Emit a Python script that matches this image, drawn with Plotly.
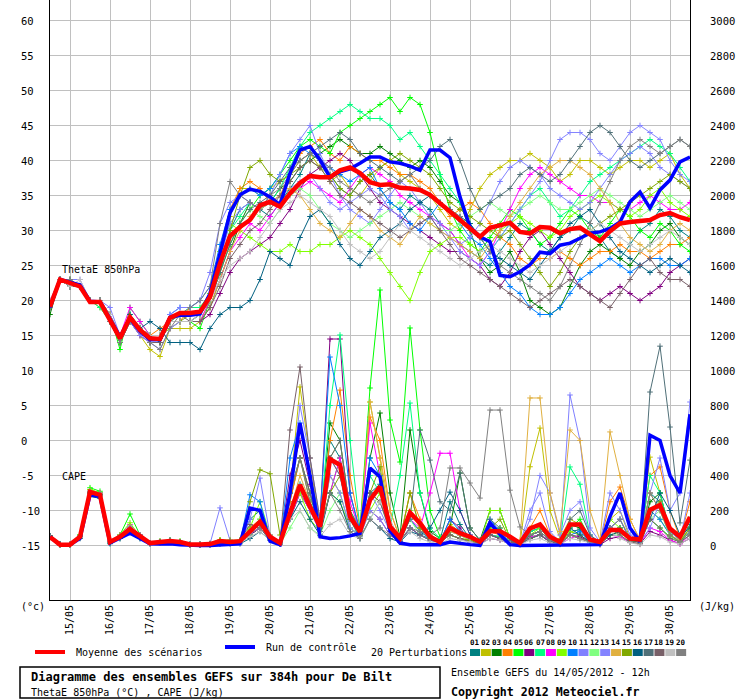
import plotly.graph_objects as go

# Echeances : 65 pas de 6h depuis le 14/05/2012 12h
hours = [6 * i for i in range(65)]
day_ticks = [12 + 24 * k for k in range(16)]
day_labels = ['15/05', '16/05', '17/05', '18/05', '19/05', '20/05', '21/05', '22/05',
              '23/05', '24/05', '25/05', '26/05', '27/05', '28/05', '29/05', '30/05']

theta_ticks = [-15, -10, -5, 0, 5, 10, 15, 20, 25, 30, 35, 40, 45, 50, 55, 60]
cape_ticks = [0, 200, 400, 600, 800, 1000, 1200, 1400, 1600, 1800, 2000, 2200, 2400, 2600, 2800, 3000]

member_colors = ['#008080', '#c0c000', '#008000', '#ff8000', '#00ff00', '#800080', '#00ff80',
                 '#ff00ff', '#80ff00', '#0080ff', '#8080ff', '#80ff80', '#8484ff', '#e0b040',
                 '#80a800', '#006080', '#507078', '#786068', '#c0c0c0', '#808080']

# Moyenne et run de controle
theta_mean = [19.1, 23.0, 22.5, 22.0, 19.8, 19.8, 17.2, 14.6, 17.6, 15.8, 14.6, 14.5, 17.5, 18.2, 18.2, 18.4, 20.5,
              25.3, 29.2, 30.5, 31.5, 33.6, 34.1, 33.4, 35.3,
              36.8, 37.8, 37.6, 37.6, 38.6, 39.0, 38.2, 36.9, 36.5, 36.6, 36.1, 36.0, 35.8, 35.1, 33.9, 32.9,
              31.6, 30.4, 29.1, 30.4, 30.8, 31.1, 29.8, 29.6, 30.5, 30.4, 29.6, 30.2, 30.4, 29.4, 28.5, 29.9,
              31.0, 31.2, 31.3, 31.5, 32.2, 32.5, 31.9, 31.5]
theta_ctrl = [19.0, 23.0, 22.6, 22.2, 19.9, 19.8, 17.4, 14.8, 17.4, 15.6, 14.4, 14.4, 17.6, 17.9, 17.9, 18.1, 21.0,
              27.0, 32.5, 35.1, 35.9, 35.6, 34.8, 33.7, 38.2,
              41.5, 42.0, 40.1, 37.6, 38.4, 38.8, 39.6, 40.5, 40.5, 39.8, 39.6, 39.2, 38.6, 41.5, 41.5, 40.4,
              34.8, 30.5, 29.1, 28.4, 23.6, 23.4, 24.1, 25.1, 26.9, 26.7, 27.9, 28.2, 28.9, 29.6, 29.8, 30.3,
              31.2, 34.1, 35.5, 33.2, 35.8, 37.2, 39.8, 40.5]
cape_mean = [49, 5, 5, 50, 306, 289, 20, 50, 94, 50, 14, 20, 26, 20, 6, 6, 8,
             25, 20, 25, 78, 136, 50, 15, 185, 346, 222,
             108, 494, 460, 165, 79, 260, 336, 108, 43, 188,
             128, 50, 20, 100, 71, 50, 22, 82, 82, 50,
             14, 97, 120, 50, 20, 120, 120, 34, 20, 88,
             88, 40, 34, 203, 231, 97, 50, 163]
cape_ctrl = [49, 5, 5, 40, 290, 280, 15, 40, 70, 40, 10, 8, 10, 5, 0, 0, 0,
             5, 10, 10, 214, 200, 25, 5, 300, 700, 400,
             50, 40, 45, 55, 70, 443, 392, 85, 14, 5,
             5, 5, 5, 20, 10, 5, 0, 130, 63, 5,
             0, 0, 0, 0, 0, 0, 0, 0, 5, 165,
             300, 100, 22, 630, 600, 400, 300, 750]

# ThetaE 850hPa des 20 perturbations
theta_p01 = [19, 23, 22, 22, 20, 20, 17, 14, 18, 16, 15, 14, 17, 18, 18, 18, 20,
             24, 30, 33, 34, 33, 32, 34, 36,
             38, 41, 40, 38, 36, 35, 37, 38, 36, 34, 33, 35, 34, 33, 31, 30,
             28, 27, 26, 25, 27, 29, 31, 30, 28, 27, 29, 30, 32, 31, 29, 27, 26, 28, 30, 31, 33, 32, 30, 29]
theta_p02 = [19, 23, 22, 22, 20, 19, 17, 14, 17, 15, 13, 12, 16, 16, 16, 17, 20,
             26, 32, 36, 36, 35, 36, 37, 38,
             40, 41, 39, 37, 38, 36, 35, 37, 39, 40, 38, 37, 36, 35, 33, 31,
             30, 33, 36, 38, 39, 40, 40, 41, 40, 39, 37, 38, 40, 40, 39, 38, 39, 40, 40, 39, 40, 41, 38, 36]
theta_p03 = [18, 23, 22, 22, 20, 20, 17, 14, 18, 16, 14, 14, 17, 17, 17, 17, 19,
             23, 27, 31, 34, 33, 34, 36, 37,
             39, 40, 41, 42, 43, 42, 41, 41, 42, 41, 40, 39, 40, 39, 37, 35,
             34, 30, 26, 24, 25, 27, 24, 20, 19, 18, 19, 22, 25, 27, 28, 27, 26, 25, 27, 28, 30, 31, 29, 28]
theta_p04 = [19, 23, 23, 22, 20, 20, 18, 15, 17, 16, 15, 16, 17, 17, 19, 19, 21,
             27, 33, 36, 37, 36, 34, 35, 38,
             41, 42, 43, 41, 40, 42, 41, 40, 40, 39, 38, 38, 37, 36, 34, 32,
             33, 34, 33, 31, 29, 28, 26, 25, 26, 26, 27, 26, 25, 26, 27, 27, 28, 27, 27, 26, 27, 28, 28, 29]
theta_p05 = [19, 23, 23, 22, 20, 20, 18, 13, 19, 17, 15, 15, 17, 17, 17, 16, 20,
             24, 28, 31, 33, 35, 36, 38, 40,
             42, 43, 42, 41, 44, 45, 46, 47, 48, 49, 47, 49, 48, 44, 38, 33,
             30, 28, 27, 29, 31, 33, 32, 30, 28, 29, 31, 33, 32, 30, 29, 31, 33, 32, 30, 29, 31, 30, 28, 27]
theta_p06 = [19, 23, 22, 22, 20, 20, 17, 14, 17, 15, 14, 14, 17, 17, 17, 17, 18,
             21, 24, 26, 27, 28, 29, 31, 33,
             36, 38, 39, 40, 41, 40, 38, 36, 34, 33, 32, 31, 30, 29, 28, 27,
             27, 26, 25, 23, 22, 24, 27, 29, 30, 28, 26, 24, 22, 21, 20, 21, 22, 21, 20, 21, 22, 24, 25, 26]
theta_p07 = [19, 23, 23, 22, 20, 19, 17, 14, 18, 16, 15, 15, 17, 18, 19, 19, 21,
             25, 30, 32, 34, 33, 34, 36, 39,
             42, 44, 45, 46, 47, 48, 47, 46, 46, 45, 43, 44, 42, 40, 38, 36,
             34, 31, 29, 27, 29, 31, 33, 35, 36, 34, 32, 33, 35, 37, 38, 39, 40, 41, 42, 43, 42, 41, 39, 37]
theta_p08 = [20, 23, 22, 22, 20, 20, 18, 15, 19, 17, 15, 15, 16, 17, 17, 17, 20,
             23, 27, 29, 31, 30, 32, 34, 35,
             36, 37, 36, 35, 34, 36, 38, 39, 38, 37, 35, 34, 33, 32, 31, 30,
             28, 26, 25, 27, 30, 33, 36, 38, 39, 38, 37, 36, 35, 35, 34, 34, 33, 33, 34, 35, 34, 33, 33, 34]
theta_p09 = [19, 23, 23, 22, 20, 20, 18, 15, 17, 16, 15, 15, 16, 17, 17, 18, 21,
             27, 31, 30, 29, 28, 27, 27, 28,
             27, 27, 28, 28, 29, 30, 29, 28, 26, 24, 22, 20, 24, 27, 28, 29,
             29, 28, 27, 28, 30, 31, 32, 31, 30, 29, 30, 32, 33, 34, 35, 34, 33, 32, 33, 35, 36, 34, 33, 32]
theta_p10 = [19, 23, 22, 22, 20, 20, 17, 15, 17, 16, 14, 14, 18, 19, 19, 20, 22,
             28, 33, 35, 36, 35, 36, 38, 41,
             42, 41, 40, 39, 38, 37, 38, 39, 36, 34, 33, 31, 30, 32, 34, 33,
             31, 29, 28, 26, 24, 22, 21, 19, 18, 18, 19, 21, 23, 24, 25, 26, 25, 24, 25, 26, 26, 25, 25, 26]
theta_p11 = [20, 23, 23, 23, 20, 20, 19, 15, 17, 16, 15, 15, 18, 19, 19, 20, 24,
             31, 34, 35, 34, 33, 35, 38, 41,
             43, 45, 41, 38, 35, 33, 32, 31, 33, 35, 37, 36, 34, 32, 30, 29,
             28, 29, 31, 34, 37, 39, 40, 39, 38, 36, 35, 34, 33, 34, 36, 38, 40, 41, 42, 41, 39, 38, 37, 36]
theta_p12 = [19, 23, 22, 22, 20, 20, 17, 14, 18, 16, 15, 15, 17, 18, 18, 18, 20,
             25, 29, 31, 33, 32, 31, 33, 35,
             36, 35, 33, 31, 30, 29, 30, 31, 32, 33, 34, 33, 32, 31, 30, 30,
             31, 32, 33, 34, 33, 32, 33, 34, 35, 34, 33, 33, 34, 35, 36, 35, 34, 33, 32, 33, 34, 35, 34, 33]
theta_p13 = [19, 23, 22, 22, 20, 20, 17, 14, 17, 15, 14, 13, 16, 17, 17, 18, 20,
             26, 31, 33, 34, 33, 34, 35, 36,
             37, 38, 36, 34, 33, 34, 35, 36, 35, 33, 32, 30, 31, 32, 31, 29,
             27, 26, 25, 27, 29, 31, 33, 35, 37, 40, 43, 44, 44, 43, 41, 40, 42, 44, 45, 44, 43, 40, 38, 37]
theta_p14 = [19, 23, 22, 22, 20, 20, 18, 15, 17, 16, 15, 15, 17, 17, 17, 17, 19,
             23, 27, 30, 32, 33, 34, 35, 36,
             35, 33, 31, 30, 29, 31, 33, 32, 30, 29, 28, 30, 32, 31, 30, 29,
             28, 27, 26, 28, 30, 32, 34, 36, 38, 39, 40, 40, 39, 38, 36, 34, 31, 29, 28, 27, 28, 30, 31, 30]
theta_p15 = [19, 23, 22, 22, 20, 20, 17, 14, 17, 16, 14, 14, 17, 17, 18, 18, 20,
             25, 30, 35, 39, 40, 38, 37, 38,
             39, 40, 39, 38, 36, 35, 37, 38, 39, 40, 41, 40, 39, 38, 36, 34,
             33, 32, 31, 30, 29, 30, 28, 26, 24, 22, 24, 27, 29, 30, 31, 32, 33, 34, 35, 36, 37, 38, 37, 36]
theta_p16 = [19, 23, 22, 22, 20, 20, 17, 15, 18, 16, 17, 16, 14, 14, 14, 13, 16,
             18, 19, 19, 20, 23, 27, 26, 25,
             29, 32, 33, 31, 28, 26, 25, 27, 29, 30, 31, 33, 34, 35, 34, 33,
             32, 31, 29, 27, 26, 25, 24, 23, 25, 27, 29, 31, 32, 33, 31, 29, 27, 26, 25, 24, 25, 26, 25, 24]
theta_p17 = [19, 23, 22, 22, 20, 20, 17, 14, 17, 16, 15, 15, 17, 17, 17, 18, 20,
             24, 28, 31, 33, 34, 35, 37, 39,
             40, 41, 42, 43, 44, 43, 41, 40, 39, 38, 37, 38, 39, 40, 42, 43,
             40, 36, 33, 34, 35, 36, 38, 39, 38, 37, 38, 40, 42, 44, 45, 44, 42, 40, 39, 40, 41, 42, 43, 42]
theta_p18 = [19, 23, 23, 22, 20, 20, 18, 14, 17, 16, 14, 14, 17, 18, 17, 17, 19,
             22, 26, 28, 30, 31, 33, 35, 37,
             39, 40, 39, 37, 35, 34, 33, 32, 31, 30, 29, 30, 31, 32, 30, 28,
             26, 25, 24, 23, 22, 21, 20, 19, 20, 21, 22, 23, 22, 21, 20, 19, 21, 23, 25, 26, 24, 23, 23, 22]
theta_p19 = [20, 23, 22, 23, 20, 20, 18, 15, 17, 16, 15, 15, 17, 17, 17, 18, 20,
             23, 25, 26, 27, 29, 31, 33, 34,
             35, 34, 33, 32, 30, 28, 27, 26, 27, 29, 31, 30, 29, 28, 27, 26,
             25, 26, 27, 28, 27, 26, 25, 24, 25, 26, 27, 28, 29, 30, 31, 30, 29, 28, 27, 28, 29, 30, 29, 28]
theta_p20 = [19, 23, 23, 22, 20, 20, 17, 14, 17, 16, 14, 13, 16, 18, 19, 20, 22,
             31, 37, 35, 34, 33, 35, 36, 38,
             40, 41, 40, 39, 37, 36, 35, 34, 35, 36, 37, 38, 36, 35, 34, 33,
             32, 30, 29, 27, 25, 24, 23, 22, 21, 20, 22, 25, 28, 31, 34, 37, 40, 42, 43, 42, 41, 42, 43, 42]

# CAPE (J/kg) des 20 perturbations
cape_p01 = [50, 5, 5, 60, 300, 290, 10, 40, 80, 40, 10, 20, 30, 20, 5, 5, 10,
            20, 15, 20, 150, 200, 40, 10, 250, 500, 300, 60, 600, 500, 150, 40, 300, 350, 80, 20, 100,
            60, 40, 30, 250, 120, 40, 10, 60, 50, 20, 10, 80, 100, 30, 10, 80, 90, 20, 10, 100,
            150, 30, 20, 300, 250, 80, 30, 120]
cape_p02 = [45, 5, 5, 50, 320, 300, 20, 60, 100, 50, 15, 20, 25, 20, 5, 5, 5,
            10, 20, 30, 80, 120, 40, 10, 300, 906, 500, 80, 400, 300, 100, 50, 820, 500, 120, 30, 150,
            80, 40, 20, 120, 80, 30, 10, 60, 40, 20, 10, 450, 671, 200, 40, 150, 120, 30, 10, 150,
            200, 40, 20, 505, 300, 60, 20, 80]
cape_p03 = [55, 5, 5, 45, 290, 280, 20, 50, 90, 60, 15, 25, 30, 20, 5, 5, 5,
            20, 25, 20, 60, 100, 30, 10, 150, 300, 200, 100, 700, 600, 200, 80, 500, 757, 300, 50, 660,
            300, 80, 40, 100, 414, 100, 30, 200, 200, 40, 10, 60, 80, 30, 10, 120, 100, 30, 10, 80,
            100, 30, 20, 250, 300, 80, 40, 150]
cape_p04 = [50, 5, 5, 50, 310, 300, 25, 50, 100, 50, 15, 20, 25, 20, 5, 5, 10,
            30, 20, 25, 100, 150, 60, 20, 250, 500, 300, 120, 600, 888, 400, 100, 734, 600, 200, 40, 300,
            150, 60, 30, 100, 60, 40, 20, 80, 60, 20, 10, 100, 200, 60, 20, 80, 60, 20, 10, 250,
            334, 150, 30, 400, 449, 200, 40, 250]
cape_p05 = [50, 5, 5, 60, 330, 310, 20, 60, 180, 60, 15, 20, 30, 25, 5, 5, 10,
            30, 20, 30, 90, 150, 50, 20, 150, 350, 250, 80, 300, 500, 200, 100, 900, 1460, 717, 477, 1243,
            660, 200, 50, 60, 40, 30, 10, 80, 100, 30, 10, 50, 60, 30, 10, 100, 150, 40, 10, 60,
            80, 30, 20, 150, 100, 50, 20, 60]
cape_p06 = [48, 5, 5, 50, 300, 290, 20, 50, 90, 50, 15, 20, 25, 20, 5, 5, 5,
            15, 20, 20, 60, 100, 40, 10, 400, 600, 350, 150, 1180, 1180, 300, 80, 200, 150, 60, 20, 100,
            60, 30, 20, 150, 100, 30, 10, 40, 30, 10, 5, 40, 60, 20, 10, 60, 50, 20, 5, 40,
            50, 20, 10, 80, 60, 30, 10, 40]
cape_p07 = [50, 5, 5, 55, 300, 295, 20, 50, 110, 50, 15, 20, 25, 20, 5, 5, 10,
            20, 20, 25, 80, 120, 40, 10, 200, 300, 200, 100, 800, 1203, 600, 100, 400, 300, 100, 400, 814,
            300, 100, 40, 80, 60, 30, 10, 60, 50, 20, 10, 80, 100, 40, 20, 449, 350, 60, 10, 80,
            100, 40, 20, 400, 300, 80, 30, 100]
cape_p08 = [52, 5, 5, 50, 310, 300, 20, 60, 120, 60, 15, 20, 25, 20, 5, 5, 10,
            20, 20, 25, 70, 100, 40, 10, 150, 300, 200, 80, 300, 500, 250, 80, 700, 400, 100, 30, 150,
            100, 300, 527, 527, 200, 60, 20, 60, 40, 20, 10, 50, 60, 30, 10, 40, 60, 20, 10, 60,
            50, 20, 10, 100, 80, 30, 10, 60]
cape_p09 = [50, 5, 5, 60, 320, 300, 25, 60, 130, 50, 15, 25, 30, 25, 5, 5, 10,
            30, 30, 30, 100, 250, 60, 20, 200, 300, 150, 80, 300, 250, 100, 60, 200, 300, 100, 30, 200,
            100, 40, 20, 60, 40, 30, 10, 200, 200, 40, 10, 60, 100, 40, 10, 80, 60, 20, 10, 150,
            100, 30, 20, 200, 150, 60, 20, 100]
cape_p10 = [48, 5, 5, 50, 300, 290, 20, 50, 100, 50, 15, 20, 25, 20, 5, 5, 10,
            20, 20, 20, 290, 250, 40, 10, 500, 700, 400, 150, 1077, 800, 300, 80, 500, 400, 100, 30, 150,
            80, 40, 20, 150, 80, 30, 10, 150, 80, 20, 10, 60, 80, 30, 10, 60, 80, 20, 10, 100,
            80, 30, 20, 200, 150, 60, 20, 80]
cape_p11 = [50, 5, 5, 55, 310, 300, 20, 50, 95, 50, 15, 20, 30, 20, 5, 5, 10,
            215, 30, 20, 150, 385, 60, 20, 300, 800, 500, 150, 500, 400, 100, 60, 300, 200, 80, 30, 100,
            60, 30, 20, 80, 60, 30, 10, 60, 40, 20, 10, 200, 300, 80, 20, 860, 600, 100, 20, 300,
            200, 60, 30, 300, 500, 200, 300, 820]
cape_p12 = [50, 5, 5, 50, 300, 290, 20, 50, 90, 50, 15, 20, 25, 20, 5, 5, 10,
            20, 20, 20, 60, 150, 40, 10, 100, 200, 100, 60, 200, 300, 100, 50, 150, 250, 80, 20, 150,
            60, 30, 20, 60, 40, 20, 10, 100, 60, 20, 10, 40, 60, 20, 10, 60, 40, 20, 10, 60,
            60, 20, 10, 150, 200, 50, 20, 60]
cape_p13 = [50, 5, 5, 50, 300, 290, 20, 50, 100, 50, 15, 20, 25, 20, 5, 5, 10,
            20, 20, 20, 70, 100, 40, 10, 200, 350, 200, 80, 400, 300, 100, 50, 200, 150, 60, 20, 100,
            60, 30, 20, 60, 40, 20, 10, 60, 40, 20, 10, 150, 400, 300, 60, 200, 250, 60, 10, 100,
            150, 40, 20, 100, 250, 80, 30, 300]
cape_p14 = [50, 5, 5, 50, 310, 300, 20, 55, 100, 55, 15, 20, 25, 20, 5, 5, 10,
            20, 20, 20, 80, 120, 40, 10, 200, 400, 250, 100, 500, 600, 200, 80, 820, 500, 200, 40, 300,
            100, 40, 20, 80, 60, 30, 10, 60, 40, 20, 30, 843, 843, 300, 80, 660, 600, 200, 30, 649,
            400, 150, 30, 300, 200, 60, 30, 100]
cape_p15 = [50, 5, 5, 55, 300, 290, 20, 50, 95, 50, 15, 20, 25, 20, 5, 5, 10,
            30, 30, 20, 250, 432, 410, 60, 300, 500, 250, 100, 300, 400, 150, 60, 300, 450, 100, 30, 300,
            100, 40, 20, 60, 40, 30, 10, 100, 150, 30, 10, 60, 80, 30, 10, 60, 40, 20, 10, 60,
            80, 30, 20, 200, 250, 60, 20, 100]
cape_p16 = [55, 10, 5, 40, 280, 270, 15, 40, 80, 40, 10, 15, 20, 15, 5, 5, 5,
            10, 10, 10, 40, 80, 30, 10, 150, 250, 150, 60, 300, 250, 80, 40, 150, 100, 40, 20, 80,
            60, 100, 200, 305, 200, 60, 20, 60, 40, 20, 10, 40, 60, 20, 10, 100, 60, 20, 10, 60,
            80, 30, 20, 150, 300, 200, 60, 100]
cape_p17 = [50, 5, 5, 50, 300, 290, 20, 50, 90, 50, 15, 20, 25, 20, 5, 5, 10,
            20, 20, 20, 80, 120, 40, 10, 300, 500, 300, 100, 500, 600, 200, 80, 300, 250, 100, 30, 150,
            660, 488, 250, 200, 414, 100, 30, 150, 100, 30, 10, 60, 80, 30, 10, 150, 200, 60, 20, 80,
            100, 40, 30, 877, 1139, 677, 129, 488]
cape_p18 = [50, 5, 5, 50, 300, 290, 20, 50, 90, 50, 15, 20, 25, 20, 5, 5, 10,
            20, 20, 30, 120, 100, 40, 20, 660, 1020, 500, 150, 500, 400, 150, 60, 300, 250, 80, 20, 100,
            60, 30, 20, 60, 40, 20, 10, 60, 40, 20, 10, 40, 60, 20, 10, 60, 40, 20, 10, 100,
            60, 20, 10, 150, 100, 40, 20, 60]
cape_p19 = [45, 5, 5, 45, 290, 280, 20, 45, 85, 45, 10, 15, 20, 15, 5, 5, 5,
            15, 15, 15, 50, 80, 30, 10, 150, 200, 100, 50, 120, 150, 60, 40, 150, 250, 150, 30, 80,
            40, 20, 10, 40, 30, 20, 5, 40, 30, 10, 5, 30, 40, 15, 5, 40, 30, 15, 5, 80,
            40, 15, 5, 60, 50, 20, 10, 40]
cape_p20 = [50, 5, 5, 55, 310, 300, 20, 55, 100, 55, 15, 20, 30, 20, 5, 5, 10,
            20, 20, 20, 70, 100, 40, 10, 300, 500, 250, 80, 300, 200, 80, 40, 150, 100, 60, 30, 100,
            80, 60, 100, 443, 443, 357, 271, 774, 774, 316, 106, 60, 80, 30, 10, 60, 40, 20, 10, 100,
            150, 40, 20, 300, 200, 60, 20, 80]

theta_members = [theta_p01, theta_p02, theta_p03, theta_p04, theta_p05, theta_p06, theta_p07,
                 theta_p08, theta_p09, theta_p10, theta_p11, theta_p12, theta_p13, theta_p14,
                 theta_p15, theta_p16, theta_p17, theta_p18, theta_p19, theta_p20]
cape_members = [cape_p01, cape_p02, cape_p03, cape_p04, cape_p05, cape_p06, cape_p07,
                cape_p08, cape_p09, cape_p10, cape_p11, cape_p12, cape_p13, cape_p14,
                cape_p15, cape_p16, cape_p17, cape_p18, cape_p19, cape_p20]

FONT = 'DejaVu Sans Mono'
W, H = 740, 700
L, R, B = 50, 690, 600  # zone de trace en pixels


def px(x):
    return (x - L) / (R - L)


def py(y):
    return (B - y) / B


def build_figure():
    fig = go.Figure()

    # Perturbations : traits fins avec petites croix
    for k in range(20):
        col = member_colors[k]
        style = dict(mode='lines+markers', line=dict(color=col, width=1),
                     marker=dict(symbol='cross-thin', size=4, line=dict(color=col, width=1)),
                     showlegend=False, hoverinfo='skip')
        fig.add_trace(go.Scatter(x=hours, y=theta_members[k], yaxis='y', **style))
        fig.add_trace(go.Scatter(x=hours, y=cape_members[k], yaxis='y2', **style))

    # Run de controle puis moyenne
    for th, cp, col, w in [(theta_ctrl, cape_ctrl, '#0000ff', 3.5), (theta_mean, cape_mean, '#ff0000', 4.5)]:
        fig.add_trace(go.Scatter(x=hours, y=th, yaxis='y', mode='lines',
                                 line=dict(color=col, width=w), showlegend=False, hoverinfo='skip'))
        fig.add_trace(go.Scatter(x=hours, y=cp, yaxis='y2', mode='lines',
                                 line=dict(color=col, width=w), showlegend=False, hoverinfo='skip'))

    t_lo, t_hi = 60 - (B - 20.5) / 7, 60 + 20.5 / 7
    fig.update_layout(
        width=W, height=H, margin=dict(l=L, r=W - R, t=0, b=H - B, pad=0),
        paper_bgcolor='white', plot_bgcolor='white',
        font=dict(family=FONT, size=10, color='black'),
        xaxis=dict(range=[0, 384], tickvals=day_ticks, ticktext=day_labels, tickangle=-90,
                   showgrid=True, gridcolor='#c0c0c0', gridwidth=1, zeroline=False,
                   showline=True, linecolor='black', linewidth=1, ticks='',
                   tickfont=dict(family=FONT, size=10)),
        yaxis=dict(range=[t_lo, t_hi], tickvals=theta_ticks, showticklabels=False,
                   showgrid=True, gridcolor='#c0c0c0', gridwidth=1, zeroline=False,
                   showline=True, linecolor='black', linewidth=1, ticks=''),
        yaxis2=dict(range=[(t_lo + 15) * 40, (t_hi + 15) * 40], overlaying='y', side='right',
                    showgrid=False, zeroline=False, showticklabels=False,
                    showline=True, linecolor='black', linewidth=1, ticks=''),
    )

    ann = []
    # graduations a gauche (alignees a gauche) et a droite
    for v in theta_ticks:
        ann.append(dict(x=px(19), y=v, xref='paper', yref='y', text=str(v), showarrow=False,
                        xanchor='left', yanchor='middle', font=dict(size=10.5)))
    for v in cape_ticks:
        ann.append(dict(x=px(708), y=v, xref='paper', yref='y2', text=str(v), showarrow=False,
                        xanchor='left', yanchor='middle', font=dict(size=10.5)))

    ann += [
        dict(x=6, y=24.4, xref='x', yref='y', text='ThetaE 850hPa', showarrow=False,
             xanchor='left', yanchor='middle'),
        dict(x=6, y=-5.1, xref='x', yref='y', text='CAPE', showarrow=False,
             xanchor='left', yanchor='middle'),
        dict(x=px(19), y=py(606), xref='paper', yref='paper', text='(°c)', showarrow=False,
             xanchor='left', yanchor='middle'),
        dict(x=px(697), y=py(606), xref='paper', yref='paper', text='(J/kg)', showarrow=False,
             xanchor='left', yanchor='middle'),
        dict(x=px(74), y=py(652), xref='paper', yref='paper', text='Moyenne des scénarios',
             showarrow=False, xanchor='left', yanchor='middle'),
        dict(x=px(264), y=py(647), xref='paper', yref='paper', text='Run de contrôle',
             showarrow=False, xanchor='left', yanchor='middle'),
        dict(x=px(369), y=py(652), xref='paper', yref='paper', text='20 Perturbations',
             showarrow=False, xanchor='left', yanchor='middle'),
        dict(x=px(29), y=py(677), xref='paper', yref='paper',
             text='<b>Diagramme des ensembles GEFS sur 384h pour De Bilt</b>',
             showarrow=False, xanchor='left', yanchor='middle', font=dict(size=12)),
        dict(x=px(29), y=py(692), xref='paper', yref='paper', text='ThetaE 850hPa (°C) , CAPE (J/kg)',
             showarrow=False, xanchor='left', yanchor='middle'),
        dict(x=px(449), y=py(672), xref='paper', yref='paper', text='Ensemble GEFS du 14/05/2012 - 12h',
             showarrow=False, xanchor='left', yanchor='middle'),
        dict(x=px(449), y=py(692), xref='paper', yref='paper', text='<b>Copyright 2012 Meteociel.fr</b>',
             showarrow=False, xanchor='left', yanchor='middle', font=dict(size=11.6)),
    ]

    shapes = [
        dict(type='line', xref='paper', yref='paper', x0=px(35), x1=px(65), y0=py(652), y1=py(652),
             line=dict(color='#ff0000', width=4)),
        dict(type='line', xref='paper', yref='paper', x0=px(225), x1=px(255), y0=py(647), y1=py(647),
             line=dict(color='#0000ff', width=4)),
        dict(type='rect', xref='paper', yref='paper', x0=px(20), x1=px(440), y0=py(667), y1=py(698),
             line=dict(color='black', width=1.5)),
    ]

    # pastilles des perturbations
    for k in range(20):
        x0 = 470 + 10.85 * k
        shapes.append(dict(type='rect', xref='paper', yref='paper', x0=px(x0), x1=px(x0 + 10),
                           y0=py(649), y1=py(656), line=dict(width=0), fillcolor=member_colors[k]))
        ann.append(dict(x=px(x0 + 5), y=py(642), xref='paper', yref='paper',
                        text='<b>%02d</b>' % (k + 1), showarrow=False, xanchor='center',
                        yanchor='middle', font=dict(size=7.5)))

    fig.update_layout(annotations=ann, shapes=shapes)
    return fig


if __name__ == "__main__":
    fig = build_figure()
    # la page ne doit pas avoir de marge autour du graphique
    fig.write_html("out.html", config={'displayModeBar': False},
                   post_script="document.body.style.margin='0';")
